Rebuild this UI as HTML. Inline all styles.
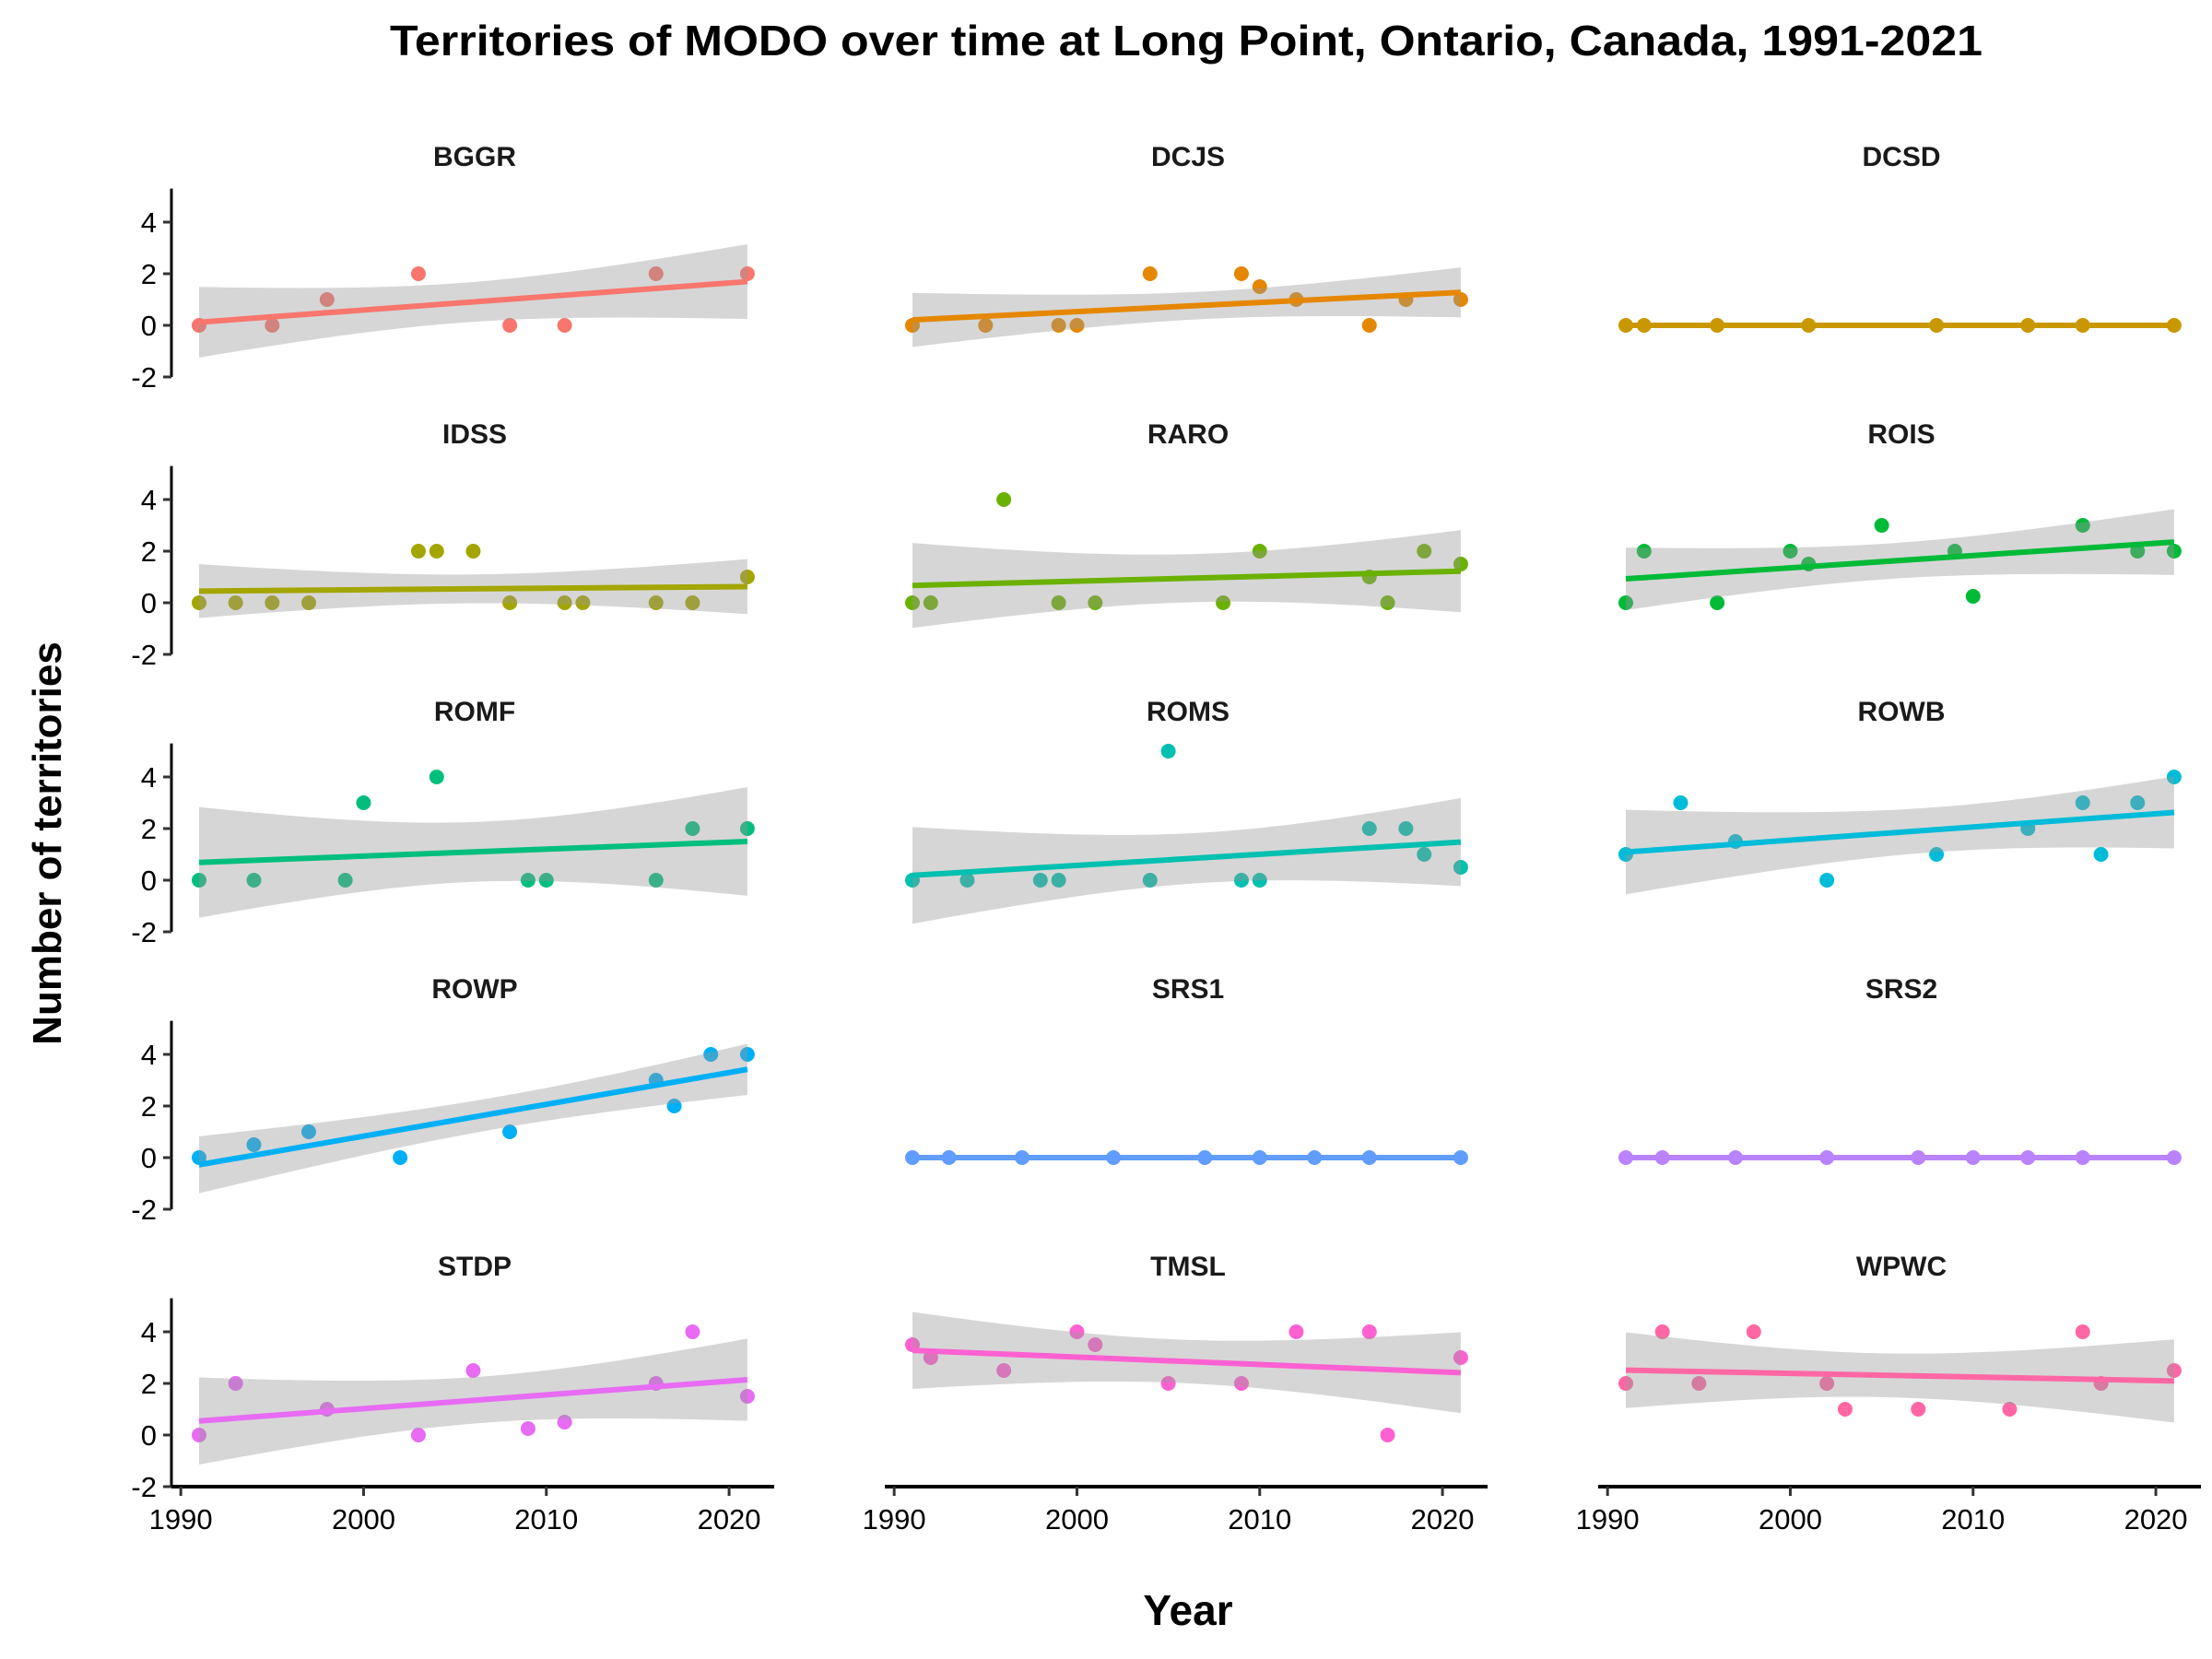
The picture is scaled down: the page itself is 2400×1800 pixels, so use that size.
<!DOCTYPE html>
<html><head><meta charset="utf-8"><style>
html,body{margin:0;padding:0;background:#fff;}
svg{display:block;font-family:"Liberation Sans",Arial,sans-serif;}
</style></head><body>
<svg id="chart" width="2400" height="1800" viewBox="0 0 2400 1800" xmlns="http://www.w3.org/2000/svg">
<text x="1287" y="60" text-anchor="middle" font-size="46" font-weight="bold" textLength="1728" lengthAdjust="spacingAndGlyphs" fill="#000">Territories of MODO over time at Long Point, Ontario, Canada, 1991-2021</text>
<text x="1289" y="1763" text-anchor="middle" font-size="46" font-weight="bold" fill="#000">Year</text>
<text x="0" y="0" transform="translate(66,915) rotate(-90)" text-anchor="middle" font-size="44" font-weight="bold" fill="#000">Number of territories</text>
<g id="panels"></g>
</svg>
<script>
const sites = ["BGGR","DCJS","DCSD","IDSS","RARO","ROIS","ROMF","ROMS","ROWB","ROWP","SRS1","SRS2","STDP","TMSL","WPWC"];
const colors = ["#F8766D","#E58700","#C99800","#A3A500","#6BB100","#00BA38","#00BF7D","#00C0AF","#00BCD8","#00B0F6","#619CFF","#B983FF","#E76BF3","#FD61D1","#FF67A4"];
const yearsBGGR = [1991,1995,1998,2003,2008,2011,2016,2021];
const valsBGGR  = [0,0,1,2,0,0,2,2];
const yearsDCJS = [1991,1995,1999,2000,2004,2009,2010,2012,2016,2018,2021];
const valsDCJS  = [0,0,0,0,2,2,1.5,1,0,1,1];
const yearsDCSD = [1991,1992,1996,2001,2008,2013,2016,2021];
const valsDCSD  = [0,0,0,0,0,0,0,0];
const yearsIDSS = [1991,1993,1995,1997,2003,2004,2006,2008,2011,2012,2016,2018,2021];
const valsIDSS  = [0,0,0,0,2,2,2,0,0,0,0,0,1];
const yearsRARO = [1991,1992,1996,1999,2001,2008,2010,2016,2017,2019,2021];
const valsRARO  = [0,0,4,0,0,0,2,1,0,2,1.5];
const yearsROIS = [1991,1992,1996,2000,2001,2005,2009,2010,2016,2019,2021];
const valsROIS  = [0,2,0,2,1.5,3,2,0.25,3,2,2];
const yearsROMF = [1991,1994,1999,2000,2004,2009,2010,2016,2018,2021];
const valsROMF  = [0,0,0,3,4,0,0,0,2,2];
const yearsROMS = [1991,1994,1998,1999,2004,2005,2009,2010,2016,2018,2019,2021];
const valsROMS  = [0,0,0,0,0,5,0,0,2,2,1,0.5];
const yearsROWB = [1991,1994,1997,2002,2008,2013,2016,2017,2019,2021];
const valsROWB  = [1,3,1.5,0,1,2,3,1,3,4];
const yearsROWP = [1991,1994,1997,2002,2008,2016,2017,2019,2021];
const valsROWP  = [0,0.5,1,0,1,3,2,4,4];
const yearsSRS1 = [1991,1993,1997,2002,2007,2010,2013,2016,2021];
const valsSRS1  = [0,0,0,0,0,0,0,0,0];
const yearsSRS2 = [1991,1993,1997,2002,2007,2010,2013,2016,2021];
const valsSRS2  = [0,0,0,0,0,0,0,0,0];
const yearsSTDP = [1991,1993,1998,2003,2006,2009,2011,2016,2018,2021];
const valsSTDP  = [0,2,1,0,2.5,0.25,0.5,2,4,1.5];
const yearsTMSL = [1991,1992,1996,2000,2001,2005,2009,2012,2016,2017,2021];
const valsTMSL  = [3.5,3,2.5,4,3.5,2,2,4,4,0,3];
const yearsWPWC = [1991,1993,1995,1998,2002,2003,2007,2012,2016,2017,2021];
const valsWPWC  = [2,4,2,4,2,1,1,1,4,2,2.5];
const yTicks = [4,2,0,-2];
const xTicks = [1990,2000,2010,2020];

const allYears = [yearsBGGR,yearsDCJS,yearsDCSD,yearsIDSS,yearsRARO,yearsROIS,yearsROMF,yearsROMS,yearsROWB,yearsROWP,yearsSRS1,yearsSRS2,yearsSTDP,yearsTMSL,yearsWPWC];
const allVals = [valsBGGR,valsDCJS,valsDCSD,valsIDSS,valsRARO,valsROIS,valsROMF,valsROMS,valsROWB,valsROWP,valsSRS1,valsSRS2,valsSTDP,valsTMSL,valsWPWC];

const NS = "http://www.w3.org/2000/svg";
const root = document.getElementById("panels");
const T95 = [0,12.706,4.303,3.182,2.776,2.571,2.447,2.365,2.306,2.262,2.228,2.201,2.179,2.160,2.145,2.131];
function el(tag, attrs, parent){const e=document.createElementNS(NS,tag);for(const k in attrs)e.setAttribute(k,attrs[k]);parent.appendChild(e);return e;}

const COL_OFF = 774, ROW_OFF = 301;
const X0 = 216, PX_YR = 19.83, Y0 = 353, PX_U = 28;

sites.forEach((name,i)=>{
  const col=i%3,row=Math.floor(i/3);
  const sx = yr => X0 + col*COL_OFF + (yr-1991)*PX_YR;
  const sy = v => Y0 + row*ROW_OFF - v*PX_U;
  const g = el("g",{},root);
  
  
  const lab = el("text",{x:515+col*COL_OFF,y:180+row*ROW_OFF,"text-anchor":"middle","font-size":"30","font-weight":"bold",fill:"#1a1a1a"},g);
  lab.textContent=name;
  
  
  const xs=allYears[i], ys=allVals[i], n=xs.length;
  // points
  xs.forEach((x,j)=>{
    const c=el("ellipse",{cx:sx(x),cy:sy(ys[j]),rx:8,ry:8,fill:colors[i]},g);
    
    
  });
  // regression
  const mx=xs.reduce((a,b)=>a+b,0)/n, my=ys.reduce((a,b)=>a+b,0)/n;
  let sxx=0,sxy=0;xs.forEach((x,j)=>{sxx+=(x-mx)**2;sxy+=(x-mx)*(ys[j]-my);});
  const b=sxy/sxx,a=my-b*mx;
  let sse=0;xs.forEach((x,j)=>{sse+=(ys[j]-a-b*x)**2;});
  const df=n-2, s=Math.sqrt(sse/df), t=T95[Math.min(df,15)]||2.1;
  const xmin=Math.min(...xs),xmax=Math.max(...xs);
  const up=[],lo=[];
  for(let k=0;k<=60;k++){
    const x=xmin+(xmax-xmin)*k/60, f=a+b*x, se=s*Math.sqrt(1/n+(x-mx)**2/sxx);
    up.push(sx(x)+","+sy(f+t*se)); lo.unshift(sx(x)+","+sy(f-t*se));
  }
  const rib=el("polygon",{points:up.concat(lo).join(" "),fill:"#999999","fill-opacity":"0.4",stroke:"none"},g);
  
  
  const ln=el("line",{x1:sx(xmin),y1:sy(a+b*xmin),x2:sx(xmax),y2:sy(a+b*xmax),stroke:colors[i],"stroke-width":"6"},g);
  
  
  // y axis (col 0)
  if(col===0){
    const bottom = row===4 ? 1613 : sy(-2);
    const ya=el("line",{x1:186,y1:sy(5.3),x2:186,y2:bottom,stroke:"#000","stroke-width":"3"},g);
    
    
    yTicks.forEach(v=>{
      el("line",{x1:177,y1:sy(v),x2:186,y2:sy(v),stroke:"#333","stroke-width":"3"},g);
      const tl=el("text",{x:170,y:sy(v)+11,"text-anchor":"end","font-size":"31",fill:"#000"},g);
      tl.textContent=String(v);
      
      
    });
  }
  // x axis (bottom row)
  if(row===4){
    const xa=el("line",{x1:186+col*COL_OFF,y1:1613,x2:840+col*COL_OFF,y2:1613,stroke:"#000","stroke-width":"4"},g);
    
    
    xTicks.forEach(v=>{
      el("line",{x1:sx(v),y1:1613,x2:sx(v),y2:1623,stroke:"#333","stroke-width":"3"},g);
      const tl=el("text",{x:sx(v),y:1659,"text-anchor":"middle","font-size":"31",fill:"#000"},g);
      tl.textContent=String(v);
      
      
    });
  }
});
</script>
</body></html>
